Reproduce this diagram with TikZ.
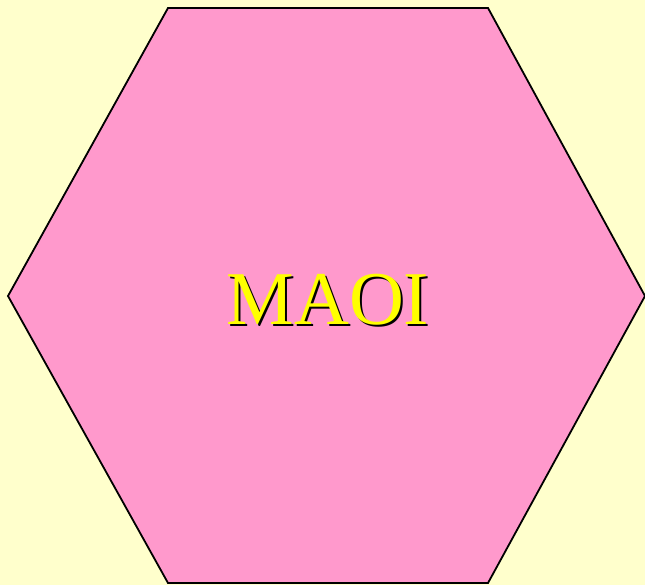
\documentclass[tikz,border=0pt]{standalone}
\usepackage{fontspec}
\setmainfont{Liberation Serif}
\usepackage{xcolor}
\definecolor{Paper}{HTML}{FFFFCC}
\definecolor{Pink}{HTML}{FF99CC}
\definecolor{Gold}{HTML}{FFFF00}
\usetikzlibrary{positioning}

\begin{document}
\begin{tikzpicture}[
  x=1pt,y=-1pt,
  hexa/.style={draw=black,fill=Pink,line width=1.8pt,line join=miter},
  word/.style={font=\fontsize{76}{76}\selectfont,inner sep=0pt}
]
  \fill[Paper] (0,0) rectangle (645,585);
  \useasboundingbox (0,0) rectangle (645,585);
  % the hexagon
  \draw[hexa] (168,8) -- (488,8) -- (645,296) -- (488,583) -- (168,583) -- (8,296) -- cycle;
  % label with a drop shadow
  \node[word,text=black] (shadow) at (330,302) {MAOI};
  \node[word,text=Gold] (label) at (328,300) {MAOI};
\end{tikzpicture}
\end{document}
